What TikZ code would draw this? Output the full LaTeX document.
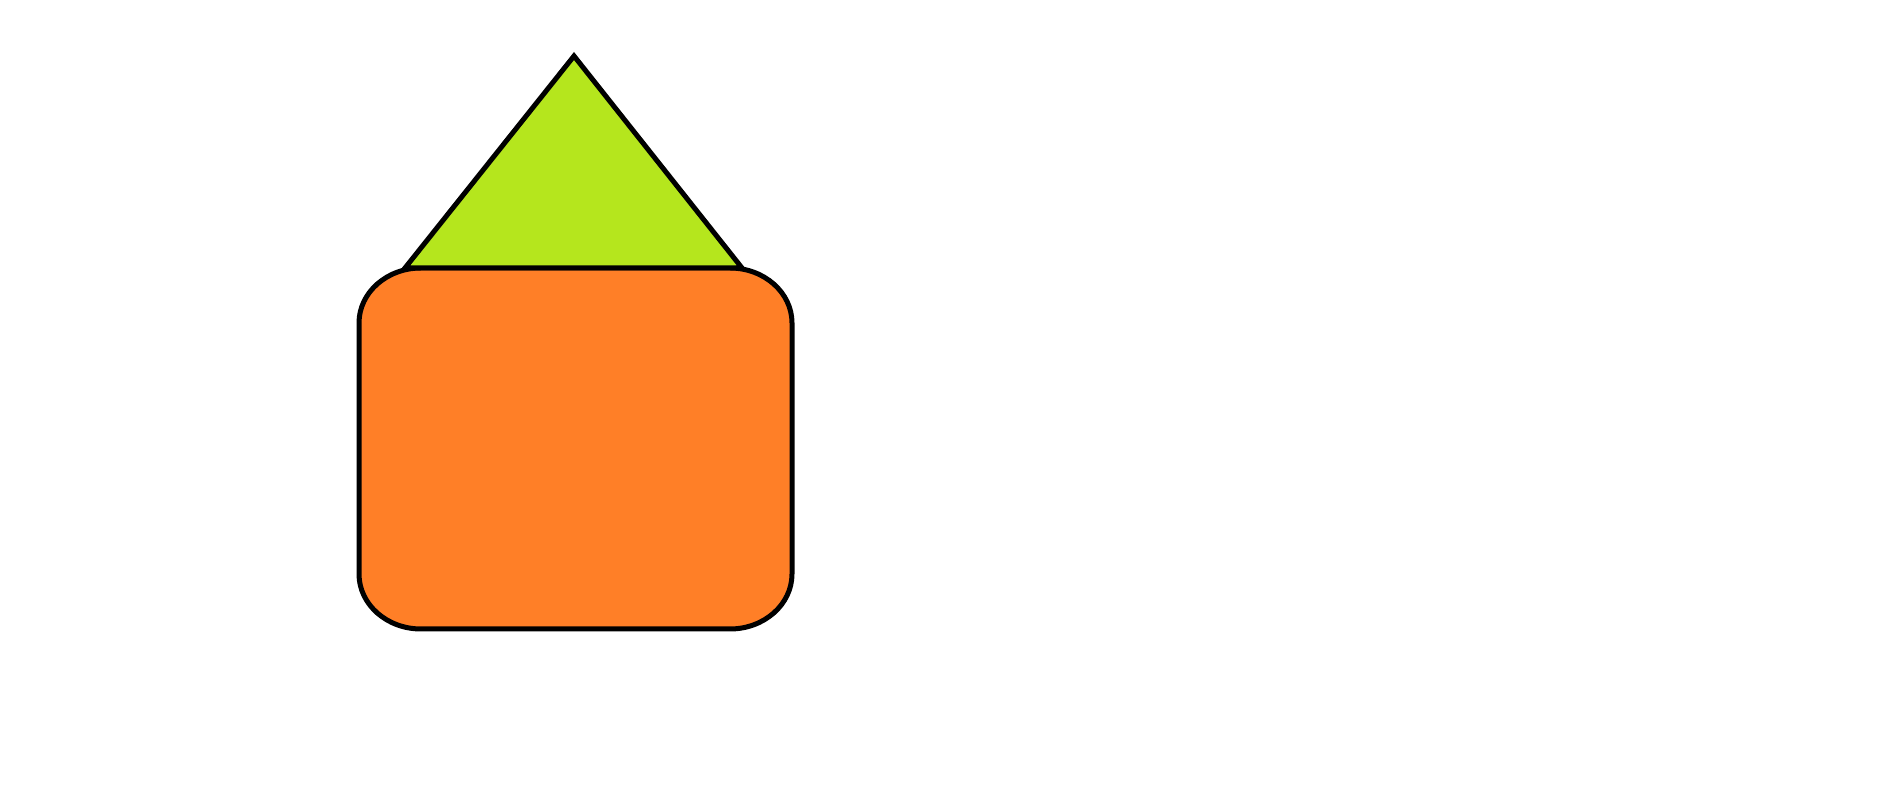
\documentclass[tikz,border=0pt]{standalone}
\usepackage{tikz}
\definecolor{boxorange}{HTML}{FF7F27}
\definecolor{roofgreen}{HTML}{B5E61D}
\tikzset{
  outline/.style={draw=black, line width=5pt, line join=miter},
}
\begin{document}
\begin{tikzpicture}[x=1pt,y=1pt]
\useasboundingbox (0,0) rectangle (1903,789);
% rounded body
\path[outline, fill=boxorange]
  (421,521) -- (730,521)
  arc[start angle=90, end angle=0, x radius=62, y radius=55]
  -- (792,215)
  arc[start angle=0, end angle=-90, x radius=62, y radius=55]
  -- (421,160)
  arc[start angle=270, end angle=180, x radius=62, y radius=55]
  -- (359,466)
  arc[start angle=180, end angle=90, x radius=62, y radius=55]
  -- cycle;
% triangle roof
\path[outline, fill=roofgreen]
  (574,733) -- (742,521) -- (405,521) -- cycle;
\end{tikzpicture}
\end{document}
